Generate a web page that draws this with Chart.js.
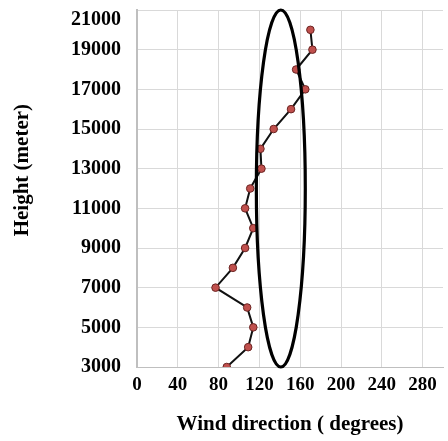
<!DOCTYPE html>
<html><head><meta charset="utf-8">
<script src="https://cdn.jsdelivr.net/npm/chart.js@4/dist/chart.umd.min.js"></script>
<style>html,body{margin:0;padding:0;background:#fff}#wrap{width:448px;height:441px}</style>
</head><body><div id="wrap"><canvas id="c" width="448" height="441"></canvas></div>
<script>
const heights = [3000,4000,5000,6000,7000,8000,9000,10000,11000,12000,13000,14000,15000,16000,17000,18000,19000,20000];
const directions = [88,109,114,108,77,94,106,114,106,111,122,121,134,151,165,156,172,170];
const xTicks = [0,40,80,120,160,200,240,280];
const yTicks = [3000,5000,7000,9000,11000,13000,15000,17000,19000,21000];
const ellipse = {cx:141, cy:12000, rx:24, ry:9000};

const ellipsePlugin = {
  id:'ellipse',
  afterDatasetsDraw(chart){
    const {ctx, scales:{x,y}} = chart;
    const cx = x.getPixelForValue(ellipse.cx), cy = y.getPixelForValue(ellipse.cy);
    const rx = Math.abs(x.getPixelForValue(ellipse.cx+ellipse.rx)-cx);
    const ry = Math.abs(y.getPixelForValue(ellipse.cy+ellipse.ry)-cy);
    ctx.save();
    ctx.beginPath();
    ctx.ellipse(cx,cy,rx,ry,0,0,Math.PI*2);
    ctx.lineWidth=3.2; ctx.strokeStyle='#000'; ctx.stroke();
    ctx.restore();
  }
};

new Chart(document.getElementById('c'),{
  type:'scatter',
  data:{datasets:[{
    data: heights.map((h,i)=>({x:directions[i],y:h})),
    showLine:true,
    borderColor:'#111',
    borderWidth:2,
    pointBackgroundColor:'#c0504d',
    pointBorderColor:'#6b2422',
    pointBorderWidth:1,
    pointRadius:3.8
  }]},
  options:{
    responsive:false,
    animation:false,
    layout:{padding:{left:0,right:5,top:10,bottom:0}},
    plugins:{legend:{display:false},tooltip:{enabled:false}},
    scales:{
      x:{
        type:'linear',min:0,max:300,
        afterBuildTicks(s){s.ticks = xTicks.map(v=>({value:v}));},
        afterFit(s){s.height=74;s.paddingLeft=0;s.paddingRight=0;},
        grid:{color:'#d9d9d9',lineWidth:1,drawTicks:false},
        border:{color:'#bfbfbf',width:1},
        ticks:{padding:7,autoSkip:false,color:'#000',font:{family:'Liberation Serif',size:19,weight:'bold'},maxRotation:0,callback:v=>String(v)},
        title:{display:true,text:'Wind direction ( degrees)',color:'#000',font:{family:'Liberation Serif',size:21,weight:'bold'},padding:{top:12}}
      },
      y:{
        type:'linear',min:3000,max:21000,
        afterBuildTicks(s){s.ticks = yTicks.map(v=>({value:v}));},
        afterFit(s){s.width=137;s.paddingTop=0;s.paddingBottom=0;},
        grid:{color:'#d9d9d9',lineWidth:1,drawTicks:false},
        border:{color:'#bfbfbf',width:2},
        ticks:{padding:16,autoSkip:false,color:'#000',font:{family:'Liberation Serif',size:20,weight:'bold',lineHeight:1.0},
          callback:v=>v===21000?['',String(v)]:String(v)},
        title:{display:true,text:'\u00a0\u00a0\u00a0\u00a0\u00a0\u00a0\u00a0Height (meter)',color:'#000',font:{family:'Liberation Serif',size:21,weight:'bold'},padding:{top:10,bottom:4}}
      }
    }
  },
  plugins:[ellipsePlugin]
});
</script></body></html>
